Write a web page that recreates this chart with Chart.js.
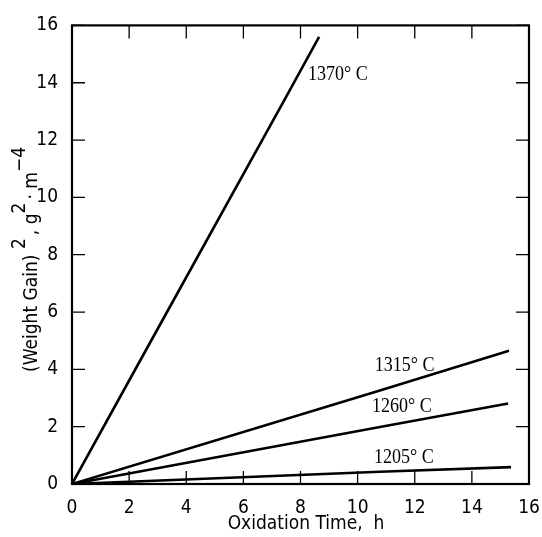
<!DOCTYPE html>
<html>
<head>
<meta charset="utf-8">
<script src="https://cdn.jsdelivr.net/npm/chart.js@4.4.1/dist/chart.umd.min.js"></script>
<style>
  html, body { margin: 0; padding: 0; background: #fff; }
  #wrap { width: 542px; height: 537px; }
</style>
</head>
<body>
<div id="wrap"><canvas id="oxChart"></canvas></div>
<script>
// oxidation runs, (weight gain)^2 against time
const temps = ["1370° C", "1315° C", "1260° C", "1205° C"];

const time1370 = [0, 2.61, 7.40, 8.65];
const gain1370 = [0, 4.71, 13.33, 15.6];
const time1315 = [0, 10.78, 15.3];
const gain1315 = [0, 3.26, 4.65];
const time1260 = [0, 10.78, 15.27];
const gain1260 = [0, 1.99, 2.81];
const time1205 = [0, 10.78, 15.37];
const gain1205 = [0, 0.43, 0.59];

const xTicks = [0, 2, 4, 6, 8, 10, 12, 14, 16];
const yTicks = [0, 2, 4, 6, 8, 10, 12, 14, 16];

const NARROW = '"Liberation Sans Narrow", "DejaVu Sans Condensed", "Liberation Sans", sans-serif';
const SERIF = '"Liberation Serif", "DejaVu Serif", serif';

const pts = (xs, ys) => xs.map((v, i) => ({ x: v, y: ys[i] }));
const series = [
  pts(time1370, gain1370),
  pts(time1315, gain1315),
  pts(time1260, gain1260),
  pts(time1205, gain1205)
];

// where each temperature label sits, in data units (left edge, middle)
const labelAt = [
  { x: 8.26, y: 14.29 },
  { x: 10.6, y: 4.13 },
  { x: 10.5, y: 2.73 },
  { x: 10.57, y: 0.95 }
];

// frame with inward ticks on all four sides, plus the text
const framePlugin = {
  id: 'framePlugin',
  afterDraw(chart) {
    const { ctx, chartArea: a, scales: { x, y } } = chart;
    ctx.save();
    ctx.strokeStyle = '#000';
    ctx.lineWidth = 1.3;
    ctx.beginPath();
    xTicks.forEach(v => {
      const px = x.getPixelForValue(v);
      ctx.moveTo(px, a.bottom); ctx.lineTo(px, a.bottom - 13);
      ctx.moveTo(px, a.top); ctx.lineTo(px, a.top + 13);
    });
    yTicks.forEach(v => {
      const py = y.getPixelForValue(v);
      ctx.moveTo(a.left, py); ctx.lineTo(a.left + 13, py);
      ctx.moveTo(a.right, py); ctx.lineTo(a.right - 13, py);
    });
    ctx.stroke();
    ctx.lineWidth = 2.2;
    ctx.strokeRect(a.left, a.top, a.right - a.left, a.bottom - a.top);

    // temperature labels
    ctx.fillStyle = '#000';
    ctx.textBaseline = 'middle';
    ctx.textAlign = 'left';
    ctx.font = '22px ' + SERIF;
    temps.forEach((t, i) => {
      const px = x.getPixelForValue(labelAt[i].x);
      const py = y.getPixelForValue(labelAt[i].y);
      ctx.save();
      ctx.translate(px, py);
      ctx.scale(0.82, 1);
      ctx.fillText(t, 0, 0);
      ctx.restore();
    });

    // x axis title
    ctx.textAlign = 'center';
    ctx.font = '19px ' + NARROW;
    ctx.fillText('Oxidation Time,  h', 306, 524);

    // y axis title with raised exponents
    ctx.save();
    ctx.translate(32, 372);
    ctx.rotate(-Math.PI / 2);
    ctx.textAlign = 'left';
    ctx.textBaseline = 'middle';
    const parts = [
      ['(Weight Gain) ', 0], ['2', 1], [', g', 0], ['2', 1], ['· m', 0], ['−4', 1]
    ];
    let cx = 0;
    parts.forEach(([txt, sup]) => {
      ctx.font = '19px ' + NARROW;
      ctx.fillText(txt, cx, sup ? -12 : 0);
      cx += ctx.measureText(txt).width + (sup ? 3 : 0);
    });
    ctx.restore();
    ctx.restore();
  }
};

new Chart(document.getElementById('oxChart'), {
  type: 'scatter',
  data: {
    datasets: series.map((d, i) => ({
      label: temps[i],
      data: d,
      showLine: true,
      borderColor: '#000',
      borderWidth: 2.6,
      pointRadius: 0,
      tension: 0
    }))
  },
  options: {
    responsive: true,
    maintainAspectRatio: false,
    animation: false,
    layout: { padding: { top: 23, right: 13, left: 0, bottom: 0 } },
    plugins: {
      legend: { display: false },
      tooltip: { enabled: false }
    },
    scales: {
      x: {
        type: 'linear',
        min: 0,
        max: 16,
        grid: { display: false, drawTicks: false, tickLength: 0 },
        border: { display: false },
        ticks: {
          stepSize: 2,
          padding: 13,
          color: '#000',
          maxRotation: 0,
          font: { family: NARROW, size: 19 }
        },
        afterFit: s => {
          s.height = 53;
          s.paddingLeft = 0;
          s.paddingRight = 0;
        }
      },
      y: {
        type: 'linear',
        min: 0,
        max: 16,
        grid: { display: false, drawTicks: false, tickLength: 0 },
        border: { display: false },
        ticks: {
          stepSize: 2,
          padding: 14,
          color: '#000',
          font: { family: NARROW, size: 19 }
        },
        afterFit: s => { s.width = 72; }
      }
    }
  },
  plugins: [framePlugin]
});
</script>
</body>
</html>
